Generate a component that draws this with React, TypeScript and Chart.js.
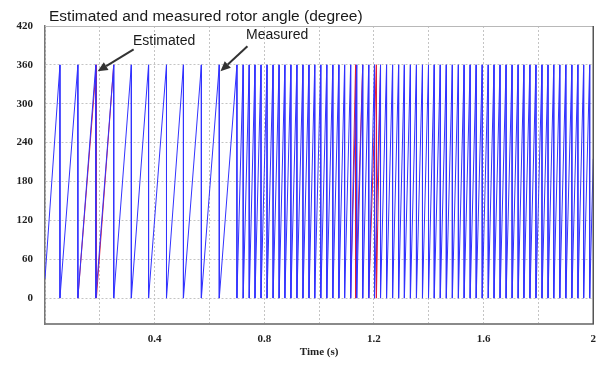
import { useEffect, useRef } from "react";
import { Chart, registerables } from "chart.js";

Chart.register(...registerables);

// ---- data ----
const titleText = "Estimated and measured rotor angle (degree)";
const xAxisTitle = "Time (s)";

// rotor angle at t = 0 and at t = 2 s (degree)
const measuredStart = 30;
const measuredEnd = 215;
const estimatedStart = 30;
const estimatedEnd = 215;

// times (s) at which the angle wraps from 360 back to 0
const measuredResets = [
  0.0545, 0.1199, 0.1853, 0.2507, 0.315, 0.3778, 0.4432, 0.505, 0.5704, 0.6358, 0.7001,
  0.723, 0.745, 0.766, 0.788, 0.81, 0.832, 0.854, 0.875, 0.897, 0.919, 0.941, 0.963,
  0.984, 1.006, 1.028, 1.05, 1.072, 1.093, 1.115, 1.137, 1.159, 1.181, 1.202, 1.224,
  1.246, 1.268, 1.29, 1.311, 1.333, 1.355, 1.377, 1.399, 1.42, 1.442, 1.464, 1.486,
  1.508, 1.529, 1.551, 1.573, 1.595, 1.617, 1.638, 1.66, 1.682, 1.704, 1.726, 1.747,
  1.769, 1.791, 1.813, 1.835, 1.856, 1.878, 1.9, 1.922, 1.944, 1.965, 1.987,
];
const estimatedResets = [
  0.0545, 0.1199, 0.1875, 0.2507, 0.315, 0.3778, 0.4432, 0.505, 0.5704, 0.6358, 0.7001,
  0.723, 0.745, 0.766, 0.788, 0.81, 0.832, 0.854, 0.875, 0.897, 0.919, 0.941, 0.963,
  0.984, 1.006, 1.028, 1.05, 1.072, 1.093, 1.115, 1.133, 1.159, 1.181, 1.209, 1.224,
  1.246, 1.268, 1.29, 1.311, 1.333, 1.355, 1.377, 1.399, 1.42, 1.442, 1.464, 1.486,
  1.508, 1.529, 1.551, 1.573, 1.595, 1.617, 1.638, 1.66, 1.682, 1.704, 1.726, 1.747,
  1.769, 1.791, 1.813, 1.835, 1.856, 1.878, 1.9, 1.922, 1.944, 1.965, 1.987,
];
const wrapTop = 360;
const wrapBottom = 0;
const tStart = 0;
const tEnd = 2;

const yTicks = [0, 60, 120, 180, 240, 300, 360, 420];
const xTicks = [0, 0.2, 0.4, 0.6, 0.8, 1.0, 1.2, 1.4, 1.6, 1.8, 2.0];
const xTickLabels = ["", "", "0.4", "", "0.8", "", "1.2", "", "1.6", "", "2"];

const measuredColor = "rgb(50,50,255)";
const estimatedColor = "rgb(225,30,60)";

function buildSawtooth(start: number, resets: number[], end: number) {
  const pts: { x: number; y: number }[] = [{ x: tStart, y: start }];
  for (const t of resets) {
    pts.push({ x: t, y: wrapTop });
    pts.push({ x: t, y: wrapBottom });
  }
  pts.push({ x: tEnd, y: end });
  return pts;
}

function arrow(ctx: CanvasRenderingContext2D, x0: number, y0: number, x1: number, y1: number) {
  const ang = Math.atan2(y1 - y0, x1 - x0);
  const len = 10;
  const hw = 4.5;
  const bx = x1 - len * Math.cos(ang);
  const by = y1 - len * Math.sin(ang);
  ctx.beginPath();
  ctx.moveTo(x0, y0);
  ctx.lineTo(bx, by);
  ctx.stroke();
  ctx.beginPath();
  ctx.moveTo(x1, y1);
  ctx.lineTo(bx + hw * Math.sin(ang), by - hw * Math.cos(ang));
  ctx.lineTo(bx - hw * Math.sin(ang), by + hw * Math.cos(ang));
  ctx.closePath();
  ctx.fill();
}

const overlay = {
  id: "overlay",
  afterDraw(chart: any) {
    const { ctx, chartArea: a, scales } = chart;
    const x = scales.x;
    const y = scales.y;
    ctx.save();
    // frame top and right
    ctx.strokeStyle = "#b8b8b8";
    ctx.lineWidth = 1;
    ctx.beginPath();
    ctx.moveTo(a.left, a.top + 0.5);
    ctx.lineTo(a.right, a.top + 0.5);
    ctx.stroke();
    ctx.strokeStyle = "#555";
    ctx.lineWidth = 1.5;
    ctx.beginPath();
    ctx.moveTo(a.right, a.top);
    ctx.lineTo(a.right, a.bottom);
    ctx.stroke();

    // title
    ctx.fillStyle = "#1a1a1a";
    ctx.font = '15.5px "Liberation Sans", Arial, sans-serif';
    ctx.textAlign = "left";
    ctx.textBaseline = "alphabetic";
    ctx.fillText(titleText, 49, 21);

    // annotations
    ctx.font = '14px "Liberation Sans", Arial, sans-serif';
    ctx.textBaseline = "middle";
    ctx.fillText("Estimated", 133, 41);
    ctx.fillText("Measured", 246, 35);

    ctx.strokeStyle = "#333";
    ctx.fillStyle = "#333";
    ctx.lineWidth = 2;
    const e = { x: x.getPixelForValue(0.192), y: y.getPixelForValue(350) };
    arrow(ctx, e.x + 36, e.y - 22, e.x, e.y);
    const m = { x: x.getPixelForValue(0.64), y: y.getPixelForValue(350) };
    arrow(ctx, m.x + 27, m.y - 25, m.x, m.y);
    ctx.restore();
  },
};

export default function App() {
  const ref = useRef<HTMLCanvasElement>(null);
  useEffect(() => {
    document.body.style.margin = "0";
    const measuredPts = buildSawtooth(measuredStart, measuredResets, measuredEnd);
    const estimatedPts = buildSawtooth(estimatedStart, estimatedResets, estimatedEnd);
    // segments of the estimate that lie exactly under the measured trace are hidden by it
    const key = (a: any, b: any) => `${a.x},${a.y},${b.x},${b.y}`;
    const measuredSegs = new Set<string>();
    for (let i = 1; i < measuredPts.length; i++) measuredSegs.add(key(measuredPts[i - 1], measuredPts[i]));

    const chart = new Chart(ref.current!, {
      type: "line",
      data: {
        datasets: [
          {
            label: "Measured",
            data: measuredPts,
            borderColor: measuredColor,
            borderWidth: 1,
            pointRadius: 0,
            tension: 0,
            order: 0,
          },
          {
            label: "Estimated",
            data: estimatedPts,
            borderColor: estimatedColor,
            borderWidth: 1,
            pointRadius: 0,
            tension: 0,
            order: 1,
            segment: {
              borderColor: (c: any) =>
                measuredSegs.has(key(c.p0.parsed, c.p1.parsed)) ? "rgba(0,0,0,0)" : estimatedColor,
            },
          },
        ],
      },
      options: {
        animation: false,
        responsive: false,
        devicePixelRatio: 1,
        layout: { padding: { left: 0, right: 9, top: 26, bottom: 0 } },
        plugins: { legend: { display: false }, tooltip: { enabled: false }, title: { display: false } },
        scales: {
          x: {
            type: "linear",
            min: 0,
            max: 2,
            afterFit: (s: any) => {
              s.height = 41;
            },
            afterBuildTicks: (s: any) => {
              s.ticks = xTicks.map((v) => ({ value: v }));
            },
            ticks: {
              autoSkip: false,
              maxRotation: 0,
              padding: 9,
              color: "#222",
              font: { family: '"Liberation Serif", "Times New Roman", serif', size: 11, weight: "bold" },
              callback: (_v: any, i: number) => xTickLabels[i],
            },
            grid: { color: "#c4c4c4", drawTicks: false, lineWidth: 1 },
            border: { color: "#8a8a8a", width: 2, dash: [2, 2] },
            title: {
              display: true,
              text: xAxisTitle,
              color: "#222",
              padding: { top: 0, bottom: 6 },
              font: { family: '"Liberation Serif", "Times New Roman", serif', size: 11, weight: "bold" },
            },
          },
          y: {
            min: -40,
            max: 420,
            afterFit: (s: any) => {
              s.width = 45;
            },
            afterBuildTicks: (s: any) => {
              s.ticks = yTicks.map((v) => ({ value: v }));
            },
            ticks: {
              padding: 12,
              color: "#222",
              font: { family: '"Liberation Serif", "Times New Roman", serif', size: 11, weight: "bold" },
            },
            grid: { color: "#c4c4c4", drawTicks: false, lineWidth: 1 },
            border: { color: "#777", width: 1.5, dash: [2, 2] },
          },
        },
      },
      plugins: [overlay],
    });
    return () => chart.destroy();
  }, []);
  return (
    <div style={{ width: 605, height: 365 }}>
      <canvas ref={ref} width={605} height={365} />
    </div>
  );
}
